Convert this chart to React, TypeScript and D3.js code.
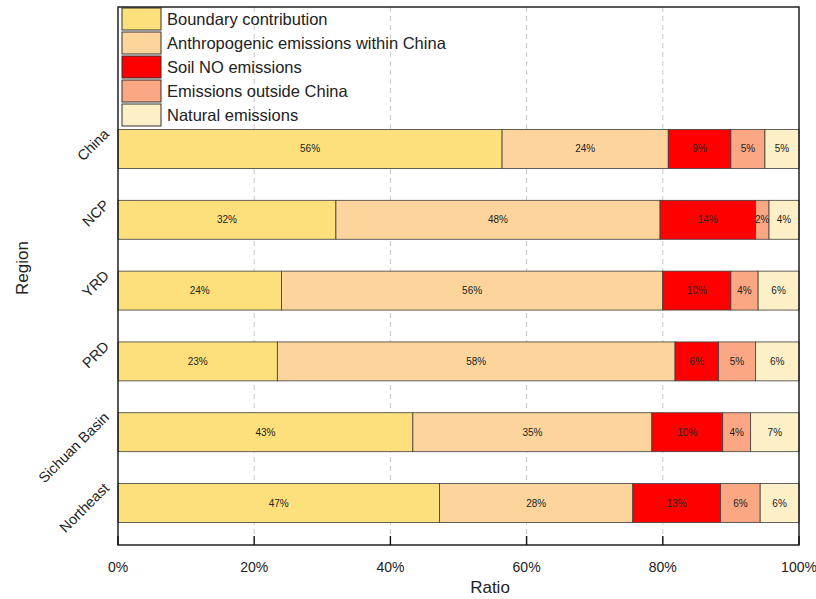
import React from "react";
import * as d3 from "d3";

// Source contributions to surface ozone by region (percent of total)
const regions = ["China", "NCP", "YRD", "PRD", "Sichuan Basin", "Northeast"];
const sources = [
  "Boundary contribution",
  "Anthropogenic emissions within China",
  "Soil NO emissions",
  "Emissions outside China",
  "Natural emissions",
];
const boundary = [56.4, 32.0, 24.0, 23.4, 43.3, 47.2];
const anthropogenic = [24.4, 47.6, 56.0, 58.4, 35.1, 28.4];
const soilNO = [9.2, 14.0, 10.0, 6.4, 10.4, 12.9];
const outside = [5.0, 2.0, 4.0, 5.4, 4.1, 5.8];
const natural = [5.0, 4.4, 6.0, 6.4, 7.1, 5.7];
const colors = ["#FDE07C", "#FDD59C", "#FF0000", "#FCA783", "#FEF0C6"];
const xTicks = [0, 20, 40, 60, 80, 100];

const W = 816;
const H = 599;
const left = 118;
const right = 799;
const top = 7;
const bottom = 545;
const FONT = "'Liberation Sans', Arial, sans-serif";

export default function App() {
  const series = [boundary, anthropogenic, soilNO, outside, natural];
  const rows = regions.map((r, i) => {
    const o: Record<string, number | string> = { region: r };
    sources.forEach((s, k) => (o[s] = series[k][i]));
    return o;
  });
  const stacked = d3.stack<any>().keys(sources)(rows);

  const x = d3.scaleLinear().domain([0, 100]).range([left, right]);
  const y = d3
    .scaleBand<string>()
    .domain(regions)
    .range([129.5, 522.5])
    .paddingInner(0.45)
    .paddingOuter(0);

  const legendY0 = 7;
  const legendStep = 24;

  return (
    <svg
      width={W}
      height={H}
      style={{ position: "absolute", left: 0, top: 0, background: "#fff" }}
      fontFamily={FONT}
    >
      {/* vertical dashed grid */}
      {xTicks.slice(1, -1).map((t) => (
        <line
          key={"g" + t}
          x1={x(t)}
          x2={x(t)}
          y1={top}
          y2={bottom}
          stroke="#c8c8c8"
          strokeWidth={1}
          strokeDasharray="5,4"
        />
      ))}

      {/* stacked bars */}
      {stacked.map((layer, k) => (
        <g key={layer.key}>
          {layer.map((d, i) => {
            const x0 = x(d[0]);
            const x1 = x(d[1]);
            const yy = y(regions[i])!;
            const val = d[1] - d[0];
            return (
              <g key={i}>
                <rect
                  x={x0}
                  y={yy}
                  width={x1 - x0}
                  height={y.bandwidth()}
                  fill={colors[k]}
                  stroke="#3c3c3c"
                  strokeWidth={0.8}
                />
                <text
                  x={(x0 + x1) / 2}
                  y={yy + y.bandwidth() / 2}
                  dy="0.35em"
                  textAnchor="middle"
                  fontSize={10}
                  fill="#222"
                >
                  {Math.round(val) + "%"}
                </text>
              </g>
            );
          })}
        </g>
      ))}

      {/* legend */}
      {sources.map((s, k) => (
        <g key={s} transform={`translate(122,${legendY0 + k * legendStep})`}>
          <rect x={0} y={1} width={39} height={22} fill={colors[k]} stroke="#333" strokeWidth={1} />
          <text x={45} y={12} dy="0.35em" fontSize={16.5} fill="#222">
            {s}
          </text>
        </g>
      ))}

      {/* frame */}
      <rect
        x={left}
        y={top}
        width={right - left}
        height={bottom - top}
        fill="none"
        stroke="#111"
        strokeWidth={1.4}
      />

      {/* x axis ticks (inward) and labels */}
      {xTicks.map((t) => (
        <g key={"t" + t}>
          <line x1={x(t)} x2={x(t)} y1={bottom} y2={bottom - 9} stroke="#111" strokeWidth={1.4} />
          <text x={x(t)} y={567} dy="0.35em" textAnchor="middle" fontSize={14} fill="#222">
            {t + "%"}
          </text>
        </g>
      ))}
      <text x={490} y={587} dy="0.35em" textAnchor="middle" fontSize={17} fill="#222">
        Ratio
      </text>

      {/* y axis labels, rotated */}
      {regions.map((r) => {
        const cy = y(r)! + y.bandwidth() / 2;
        return (
          <text
            key={r}
            transform={`translate(110,${cy - 14}) rotate(-45)`}
            textAnchor="end"
            fontSize={14.5}
            fill="#222"
          >
            {r}
          </text>
        );
      })}
      <text
        transform={`translate(22,268) rotate(-90)`}
        textAnchor="middle"
        dy="0.35em"
        fontSize={17}
        fill="#222"
      >
        Region
      </text>
    </svg>
  );
}
